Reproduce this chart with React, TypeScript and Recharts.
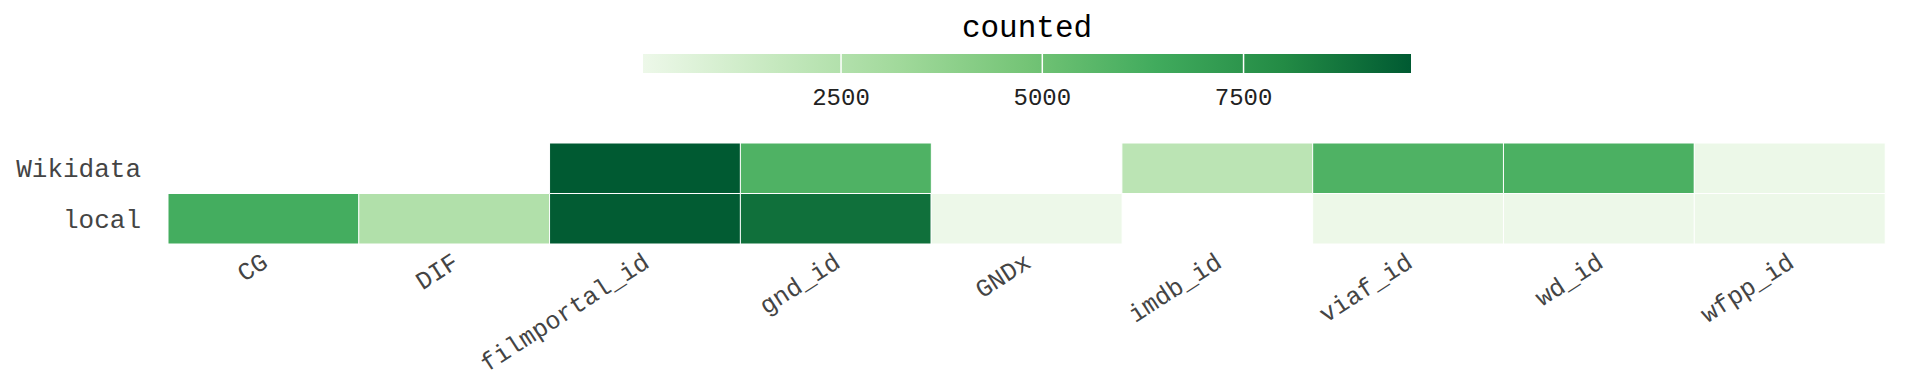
import { BarChart, Bar, Cell, XAxis, YAxis, ReferenceLine } from 'recharts'

document.body.style.margin = '0'

const FONT = '"Liberation Mono", "DejaVu Sans Mono", monospace'

const categories = ['CG', 'DIF', 'filmportal_id', 'gnd_id', 'GNDx', 'imdb_id', 'viaf_id', 'wd_id', 'wfpp_id']
const rowLabels = ['local', 'Wikidata']
// null = no cell drawn
const localCounts: (number | null)[] = [6300, 2560, 9500, 8860, 40, null, 60, 50, 45]
const wikidataCounts: (number | null)[] = [null, null, 9580, 5950, null, 2150, 5950, 6080, 90]
const legendTicks = [2500, 5000, 7500]
const greens = ['#edf8e9', '#c7e9c0', '#a1d99b', '#74c476', '#41ab5d', '#238b45', '#005a32']

const allCounts = [...localCounts, ...wikidataCounts].filter((v): v is number => v != null)
const cMin = Math.min(...allCounts)
const cMax = Math.max(...allCounts)

const hex = (h: string) => [1, 3, 5].map((i) => parseInt(h.slice(i, i + 2), 16))

function colorFor(v: number) {
  const t = Math.max(0, Math.min(1, (v - cMin) / (cMax - cMin)))
  const p = t * (greens.length - 1)
  const i = Math.min(Math.floor(p), greens.length - 2)
  const f = p - i
  const a = hex(greens[i])
  const b = hex(greens[i + 1])
  const c = a.map((x, k) => Math.round(x + (b[k] - x) * f))
  return `rgb(${c[0]},${c[1]},${c[2]})`
}

const heatRows = categories.map((cat, i) => ({
  cat,
  local: 1,
  wikidata: 1,
  localCount: localCounts[i],
  wikidataCount: wikidataCounts[i],
}))

const barRow = [{ name: 'counted', value: cMax }]

const SlantTick = (props: any) => {
  const { x, y, payload } = props
  const ax = x + 6
  return (
    <text
      x={ax}
      y={y}
      transform={`rotate(-33 ${ax} ${y})`}
      textAnchor="end"
      fill="#444"
      fontSize={25}
      fontFamily={FONT}
    >
      {payload.value}
    </text>
  )
}

const TitleLabel = (props: any) => {
  const { x, y, width } = props
  return (
    <text x={x + width / 2} y={y - 17} textAnchor="middle" fill="#000" fontSize={31} fontFamily={FONT}>
      counted
    </text>
  )
}

export default function App() {
  return (
    <div style={{ position: 'relative', width: 1920, height: 384, background: '#fff' }}>
      {/* colour bar */}
      <div style={{ position: 'absolute', top: 0, left: 0 }}>
        <BarChart
          width={1920}
          height={130}
          layout="vertical"
          data={barRow}
          margin={{ top: 54, right: 509, left: 643, bottom: 0 }}
          barCategoryGap={0}
        >
          <defs>
            <linearGradient id="cbar" x1="0" y1="0" x2="1" y2="0">
              {greens.map((g, i) => (
                <stop key={g} offset={i / (greens.length - 1)} stopColor={g} />
              ))}
            </linearGradient>
          </defs>
          <XAxis
            type="number"
            domain={[cMin, cMax]}
            ticks={legendTicks}
            height={56.7}
            tickSize={0}
            tickMargin={15}
            axisLine={false}
            tickLine={false}
            tick={{ fill: '#222', fontSize: 24, fontFamily: FONT }}
          />
          <YAxis type="category" dataKey="name" hide />
          <Bar dataKey="value" fill="url(#cbar)" isAnimationActive={false} label={<TitleLabel />} />
          {legendTicks.map((t) => (
            <ReferenceLine key={t} x={t} stroke="#fff" strokeWidth={1.5} />
          ))}
        </BarChart>
      </div>

      {/* heatmap */}
      <div style={{ position: 'absolute', top: 110, left: 0 }}>
        <BarChart
          width={1920}
          height={274}
          data={heatRows}
          margin={{ top: 33, right: 35, left: 0, bottom: 0 }}
          barCategoryGap={0}
          barGap={0}
        >
          <XAxis
            dataKey="cat"
            type="category"
            height={140}
            interval={0}
            tickSize={0}
            tickMargin={22}
            axisLine={false}
            tickLine={false}
            tick={<SlantTick />}
          />
          <YAxis
            type="number"
            domain={[0, 2]}
            ticks={[0.5, 1.5]}
            width={168}
            tickSize={0}
            tickMargin={27}
            axisLine={false}
            tickLine={false}
            tickFormatter={(v: number) => rowLabels[Math.floor(v)]}
            tick={{ fill: '#444', fontSize: 26, fontFamily: FONT }}
          />
          <Bar dataKey="local" stackId="h" isAnimationActive={false}>
            {heatRows.map((r) => (
              <Cell
                key={r.cat}
                fill={r.localCount == null ? 'none' : colorFor(r.localCount)}
                stroke={r.localCount == null ? 'none' : '#fff'}
                strokeWidth={1}
              />
            ))}
          </Bar>
          <Bar dataKey="wikidata" stackId="h" isAnimationActive={false}>
            {heatRows.map((r) => (
              <Cell
                key={r.cat}
                fill={r.wikidataCount == null ? 'none' : colorFor(r.wikidataCount)}
                stroke={r.wikidataCount == null ? 'none' : '#fff'}
                strokeWidth={1}
              />
            ))}
          </Bar>
        </BarChart>
      </div>
    </div>
  )
}
